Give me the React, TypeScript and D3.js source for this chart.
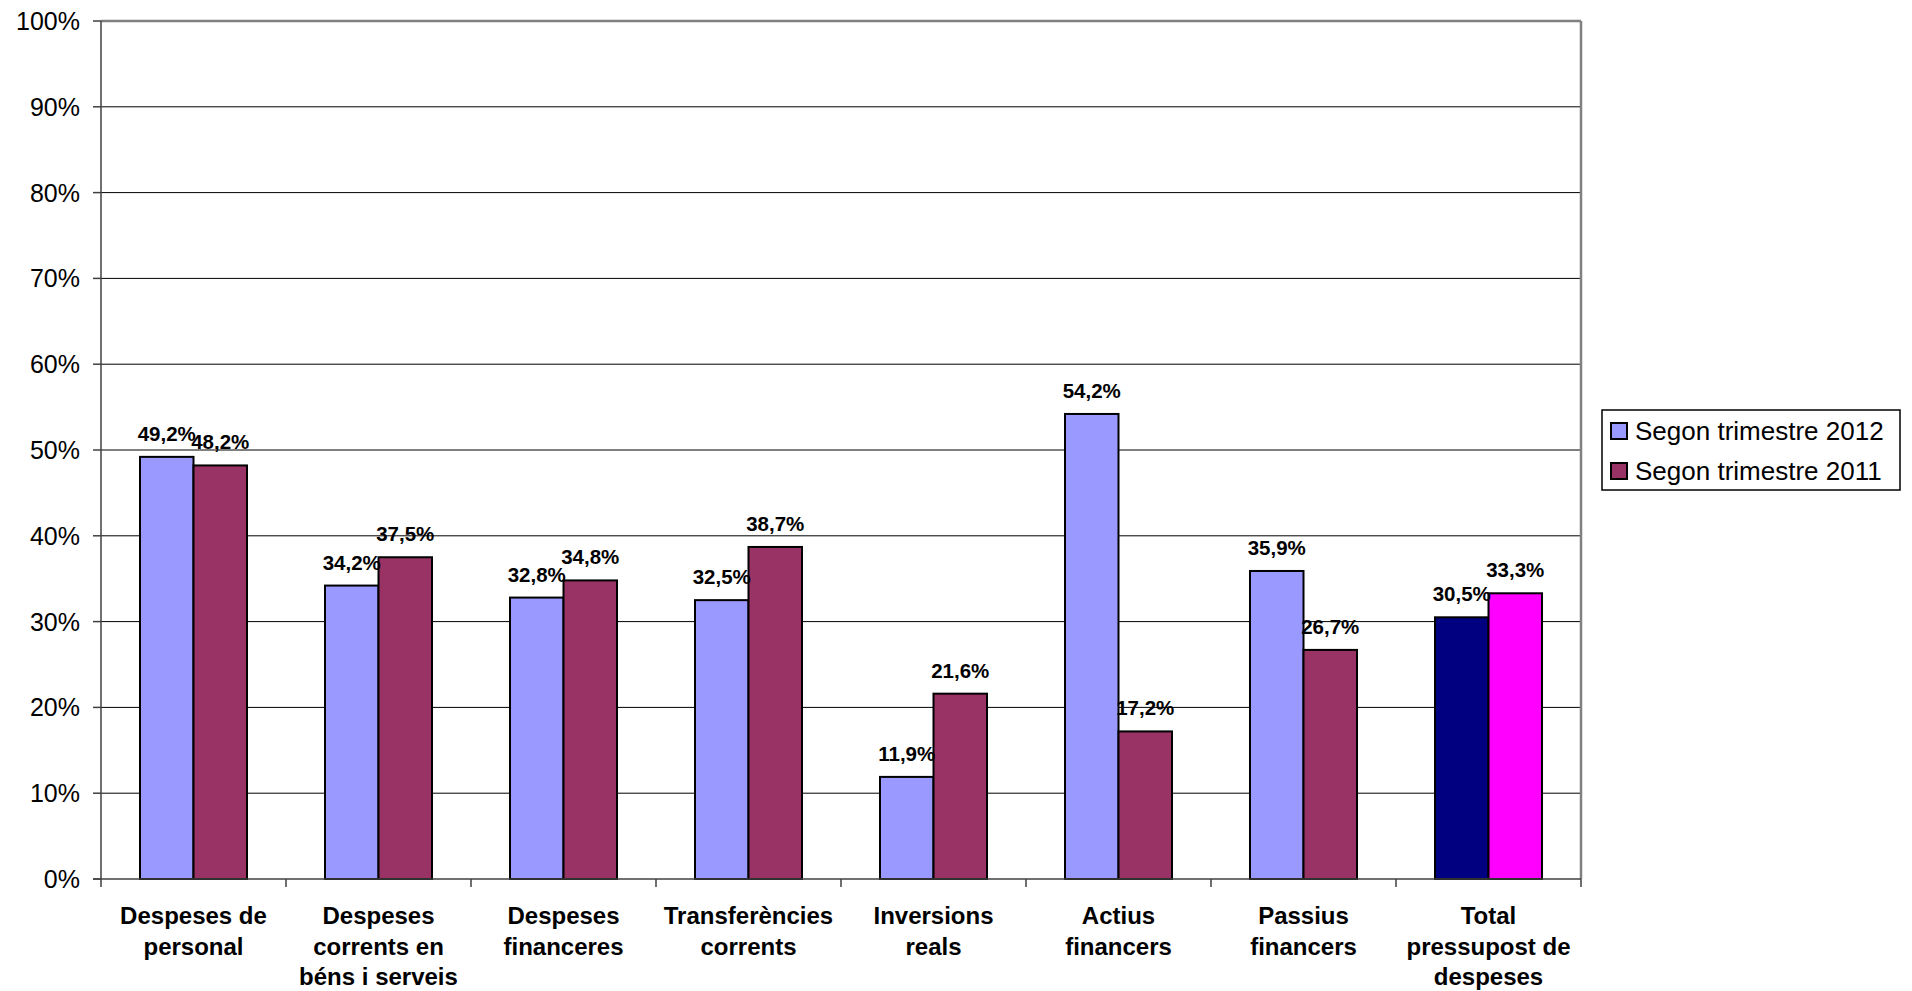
import React from "react";
import * as d3 from "d3";

const categories: string[][] = [
  ["Despeses de", "personal"],
  ["Despeses", "corrents en", "béns i serveis"],
  ["Despeses", "financeres"],
  ["Transferències", "corrents"],
  ["Inversions", "reals"],
  ["Actius", "financers"],
  ["Passius", "financers"],
  ["Total", "pressupost de", "despeses"],
];
const seriesNames = ["Segon trimestre 2012", "Segon trimestre 2011"];
const values2012 = [49.2, 34.2, 32.8, 32.5, 11.9, 54.2, 35.9, 30.5];
const values2011 = [48.2, 37.5, 34.8, 38.7, 21.6, 17.2, 26.7, 33.3];
const seriesColors = ["#9999FF", "#993366"];
const totalColors = ["#000080", "#FF00FF"];
const yTicks = [0, 10, 20, 30, 40, 50, 60, 70, 80, 90, 100];

const W = 1912;
const H = 991;
const left = 101;
const right = 1581;
const top = 21;
const bottom = 879;

export default function App() {
  const catKeys = categories.map((c) => c.join(" "));
  const x = d3.scaleBand<string>().domain(catKeys).range([left, right]).padding(0);
  const xs = d3
    .scaleBand<string>()
    .domain(["a", "b"])
    .range([0, x.bandwidth()])
    .paddingInner(0)
    .paddingOuter(0.729);
  const y = d3.scaleLinear().domain([0, 100]).range([bottom, top]);
  const series = [values2012, values2011];
  const fmt = (v: number) => v.toFixed(1).replace(".", ",") + "%";
  const font = "'Liberation Sans', Arial, sans-serif";

  return (
    <svg
      width={W}
      height={H}
      style={{ position: "absolute", left: 0, top: 0, background: "#fff" }}
      fontFamily={font}
    >
      <rect x={0} y={0} width={W} height={H} fill="#fff" />
      {/* gridlines */}
      {yTicks
        .filter((t) => t > 0 && t < 100)
        .map((t) => (
          <line key={t} x1={left} x2={right} y1={y(t)} y2={y(t)} stroke="#000" strokeWidth={1} />
        ))}
      {/* plot border (top/right gray) */}
      <line x1={left} x2={right} y1={y(100)} y2={y(100)} stroke="#808080" strokeWidth={2.5} />
      <line x1={right} x2={right} y1={y(100)} y2={bottom} stroke="#808080" strokeWidth={2.5} />
      {/* bars */}
      {catKeys.map((k, i) =>
        series.map((s, j) => {
          const v = s[i];
          const bx = (x(k) as number) + (xs(j === 0 ? "a" : "b") as number);
          const fill = i === catKeys.length - 1 ? totalColors[j] : seriesColors[j];
          return (
            <rect
              key={k + j}
              x={bx}
              y={y(v)}
              width={xs.bandwidth()}
              height={bottom - y(v)}
              fill={fill}
              stroke="#000"
              strokeWidth={2}
            />
          );
        })
      )}
      {/* axes */}
      <line x1={left} x2={left} y1={y(100)} y2={bottom} stroke="#404040" strokeWidth={1.5} />
      <line x1={left - 8} x2={right} y1={bottom} y2={bottom} stroke="#404040" strokeWidth={1.5} />
      {yTicks.map((t) => (
        <g key={"yt" + t}>
          <line x1={left - 8} x2={left} y1={y(t)} y2={y(t)} stroke="#404040" strokeWidth={1.5} />
          <text x={80} y={y(t) + 9} textAnchor="end" fontSize={25} fill="#000">
            {t}%
          </text>
        </g>
      ))}
      {d3.range(catKeys.length + 1).map((i) => {
        const xx = left + i * x.step();
        return <line key={"xt" + i} x1={xx} x2={xx} y1={bottom} y2={bottom + 8} stroke="#404040" strokeWidth={1.5} />;
      })}
      {/* category labels */}
      {categories.map((lines, i) => {
        const cx = (x(catKeys[i]) as number) + x.bandwidth() / 2;
        return (
          <text key={"cl" + i} textAnchor="middle" fontSize={24} fontWeight="bold" fill="#000">
            {lines.map((ln, li) => (
              <tspan key={li} x={cx} y={924 + li * 30.5}>
                {ln}
              </tspan>
            ))}
          </text>
        );
      })}
      {/* data labels */}
      {catKeys.map((k, i) =>
        series.map((s, j) => {
          const v = s[i];
          const bx = (x(k) as number) + (xs(j === 0 ? "a" : "b") as number) + xs.bandwidth() / 2;
          return (
            <text key={"dl" + k + j} x={bx} y={y(v) - 16} textAnchor="middle" fontSize={20.5} fontWeight="bold" fill="#000">
              {fmt(v)}
            </text>
          );
        })
      )}
      {/* legend */}
      <rect x={1602} y={410} width={298} height={80} fill="#fff" stroke="#000" strokeWidth={1.5} />
      {seriesNames.map((n, j) => (
        <g key={"lg" + j}>
          <rect x={1611} y={423 + j * 40} width={16} height={16} fill={seriesColors[j]} stroke="#000" strokeWidth={2} />
          <text x={1635} y={440 + j * 40} fontSize={26} fill="#000">
            {n}
          </text>
        </g>
      ))}
    </svg>
  );
}
